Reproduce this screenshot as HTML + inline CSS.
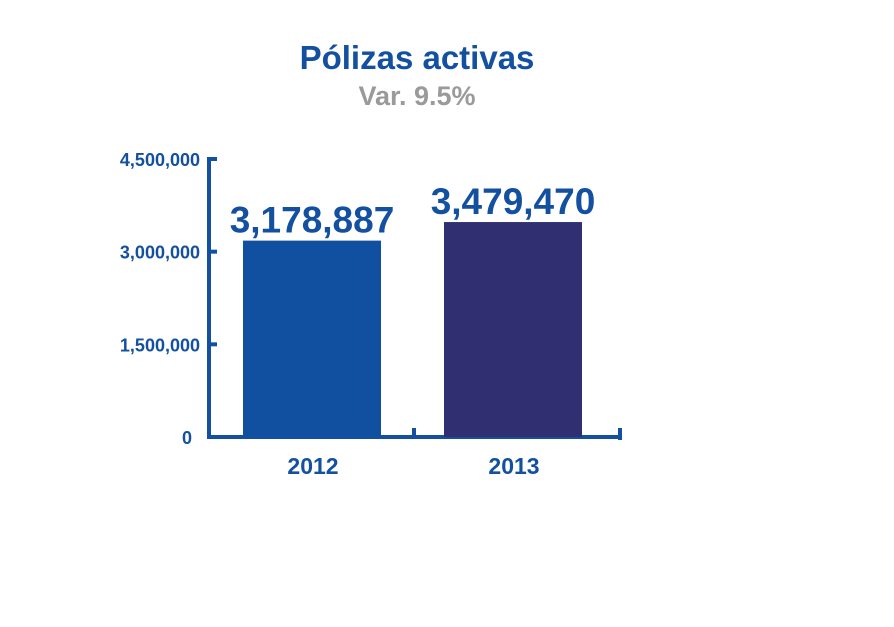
<!DOCTYPE html>
<html><head><meta charset="utf-8"><style>
body{margin:0;background:#fff;width:894px;height:622px;overflow:hidden;font-family:"Liberation Sans",sans-serif}
</style></head><body>
<svg width="894" height="622">
<text x="417" y="69" text-anchor="middle" font-size="33" font-weight="bold" fill="#1350a0">Pólizas activas</text>
<text x="417" y="105" text-anchor="middle" font-size="27" font-weight="bold" fill="#9a9a9a">Var. 9.5%</text>
<g id="plot"></g>
</svg>
<script>
const categories=["2012","2013"];
const values=[3178887,3479470];
const valueLabels=["3,178,887","3,479,470"];
const ticks=[0,1500000,3000000,4500000];
const tickLabels=["0","1,500,000","3,000,000","4,500,000"];
const colors=["#1150a0","#2f2f72"];
const NS="http://www.w3.org/2000/svg";
const g=document.getElementById('plot');
const y0=437,yTop=159,maxV=4500000;
const y=v=>y0-(v/maxV)*(y0-yTop);
const bx=i=>243+i*201;
function mk(t,a){const e=document.createElementNS(NS,t);for(const k in a)e.setAttribute(k,a[k]);g.appendChild(e);return e;}
const blue="#1350a0";
const ax=mk('path',{d:`M216 ${y(maxV)} H209 V${y0} H620 M414 ${y0} V428 M620 ${y0+3} V428`,stroke:blue,'stroke-width':4,fill:'none'});


ticks.forEach((t,i)=>{
 const tk=mk('line',{x1:209,x2:217,y1:y(t),y2:y(t),stroke:blue,'stroke-width':4});
 
 
 const tl=mk('text',{x:i==0?192:200,y:y(t)+7,'text-anchor':'end','font-size':18,'font-weight':'bold',fill:blue});
 tl.textContent=tickLabels[i];
 
 
});
values.forEach((v,i)=>{
 const r=mk('rect',{x:bx(i),y:y(v),width:138,height:y0-y(v),fill:colors[i]});
 
 
 const vl=mk('text',{x:bx(i)+69,y:y(v)-8,'text-anchor':'middle','font-size':37,'font-weight':'bold',fill:blue});
 vl.textContent=valueLabels[i];
 
 
 const cl=mk('text',{x:bx(i)+70,y:474,'text-anchor':'middle','font-size':23,'font-weight':'bold',fill:blue});
 cl.textContent=categories[i];
 
 
});
</script>
</body></html>
